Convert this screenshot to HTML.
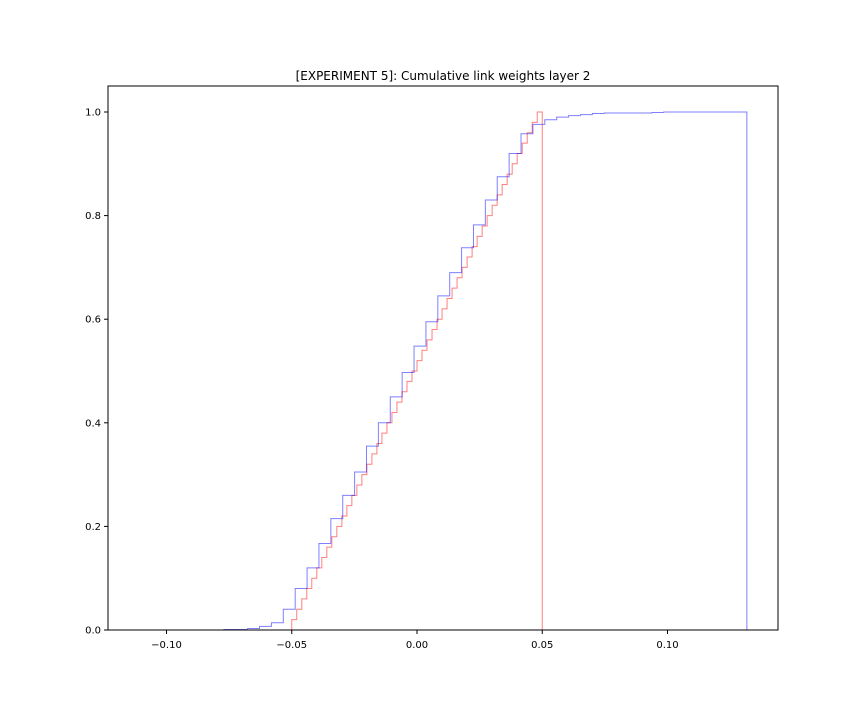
<!DOCTYPE html>
<html><head><meta charset="utf-8"><style>
body{margin:0;background:#fff;font-family:"Liberation Sans",sans-serif;}
</style></head><body>
<svg id="chart" width="864" height="720" xmlns="http://www.w3.org/2000/svg" font-family="DejaVu Sans, Liberation Sans, sans-serif">
<rect width="864" height="720" fill="#fff"/>
<text x="443" y="80" font-size="12" text-anchor="middle">[EXPERIMENT 5]: Cumulative link weights layer 2</text>
<g id="series"></g>
<g id="axes"></g>
<rect x="108" y="86" width="670" height="544" fill="none" stroke="#000" stroke-width="1"/>
</svg>
<script>
const xTicks=[-0.10,-0.05,0.00,0.05,0.10];
const xTickLabels=["−0.10","−0.05","0.00","0.05","0.10"];
const yTicks=[0,0.2,0.4,0.6,0.8,1.0];
const yTickLabels=["0.0","0.2","0.4","0.6","0.8","1.0"];
const redStart=-0.05, redWidth=0.002;
const redValues=[0.02,0.04,0.06,0.08,0.10,0.12,0.14,0.16,0.18,0.20,0.22,0.24,0.26,0.28,0.30,0.32,0.34,0.36,0.38,0.40,0.42,0.44,0.46,0.48,0.50,0.52,0.54,0.56,0.58,0.60,0.62,0.64,0.66,0.68,0.70,0.72,0.74,0.76,0.78,0.80,0.82,0.84,0.86,0.88,0.90,0.92,0.94,0.96,0.98,1.00];
const blueStart=-0.0771, blueWidth=0.004745;
const blueValues=[0.001,0.001,0.003,0.007,0.014,0.04,0.08,0.12,0.167,0.215,0.26,0.305,0.355,0.40,0.45,0.497,0.548,0.595,0.645,0.69,0.738,0.782,0.83,0.875,0.92,0.958,0.976,0.985,0.99,0.993,0.995,0.997,0.998,0.998,0.998,0.998,0.999,1.0,1.0,1.0,1.0,1.0,1.0,1.0];
const NS="http://www.w3.org/2000/svg";
function X(v){return 417+v*2505;}
function Y(v){return 630-v*518;}
const axes=document.getElementById('axes');
xTicks.forEach((t,i)=>{
  const l=document.createElementNS(NS,'line');
  l.setAttribute('x1',X(t));l.setAttribute('x2',X(t));l.setAttribute('y1',630);l.setAttribute('y2',634);l.setAttribute('stroke','#000');
  
  
  axes.appendChild(l);
  const tx=document.createElementNS(NS,'text');
  tx.setAttribute('x',X(t));tx.setAttribute('y',648);tx.setAttribute('font-size','10');tx.setAttribute('text-anchor','middle');
  tx.textContent=xTickLabels[i];
  
  
  axes.appendChild(tx);
});
yTicks.forEach((t,i)=>{
  const l=document.createElementNS(NS,'line');
  l.setAttribute('x1',104);l.setAttribute('x2',108);l.setAttribute('y1',Y(t));l.setAttribute('y2',Y(t));l.setAttribute('stroke','#000');
  
  
  axes.appendChild(l);
  const tx=document.createElementNS(NS,'text');
  tx.setAttribute('x',101);tx.setAttribute('y',Y(t)+3.5);tx.setAttribute('font-size','10');tx.setAttribute('text-anchor','end');
  tx.textContent=yTickLabels[i];
  
  
  axes.appendChild(tx);
});
function stepPath(start,w,vals){
  let d='M'+X(start)+','+Y(0);
  vals.forEach((v,i)=>{d+=' L'+X(start+i*w)+','+Y(v)+' L'+X(start+(i+1)*w)+','+Y(v);});
  d+=' L'+X(start+vals.length*w)+','+Y(0);
  return d;
}
const g=document.getElementById('series');
const red=document.createElementNS(NS,'path');
red.setAttribute('d',stepPath(redStart,redWidth,redValues));
red.setAttribute('fill','none');red.setAttribute('stroke','rgba(255,0,0,0.5)');red.setAttribute('stroke-width','1');


g.appendChild(red);
const blue=document.createElementNS(NS,'path');
blue.setAttribute('d',stepPath(blueStart,blueWidth,blueValues));
blue.setAttribute('fill','none');blue.setAttribute('stroke','rgba(0,0,255,0.5)');blue.setAttribute('stroke-width','1');


g.appendChild(blue);
</script>
</body></html>
